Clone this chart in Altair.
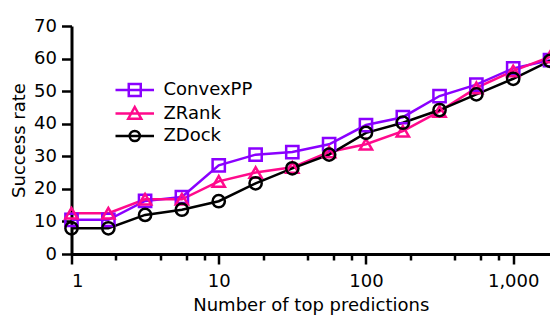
import altair as alt
import pandas as pd

# ---- data ----
x_vals = [1, 1.78, 3.16, 5.62, 10, 17.8, 31.6, 56.2, 100, 178, 316, 562, 1000, 1778]
convexpp = [10.5, 10.5, 16.3, 17.5, 27.2, 30.5, 31.3, 33.7, 39.6, 42.0, 48.5, 52.0, 57.0, 59.5]
zrank = [12.5, 12.5, 16.8, 16.8, 22.3, 25.0, 26.6, 31.3, 33.7, 37.7, 43.8, 51.0, 56.2, 60.5]
zdock = [7.9, 7.9, 12.0, 13.6, 16.2, 21.7, 26.3, 30.5, 37.2, 40.3, 44.2, 49.0, 53.8, 59.3]

series_names = ["ConvexPP", "ZRank", "ZDock"]
series_values = [convexpp, zrank, zdock]
series_colors = ["#8a00ff", "#ff0a8c", "#000000"]
marker_shapes = ["square", "triangle-up", "circle"]
# legend symbols: a line with the series marker on it (unit = sqrt(symbolSize)/2 px)
legend_symbols = [
    "M-1.385,0H4.54M0.655,-0.92H2.5V0.92H0.655Z",
    "M-1.385,0H4.54M1.577,-1.0L2.577,0.8H0.577Z",
    "M-1.385,0H4.54M2.357,0A0.78,0.78 0 1,1 0.797,0A0.78,0.78 0 1,1 2.357,0Z",
]
x_tick_values = [1, 2, 4, 6, 8, 10, 20, 40, 60, 80, 100, 200, 400, 600, 800, 1000]
x_label_values = [1, 10, 100, 1000]
y_tick_values = [0, 10, 20, 30, 40, 50, 60, 70]

rows = []
for name, vals in zip(series_names, series_values):
    for xv, v in zip(x_vals, vals):
        rows.append({"x": xv, "rate": v, "series": name})
df = pd.DataFrame(rows)

FONT = "DejaVu Sans"
label_test = "indexof([" + ",".join(str(v) for v in x_label_values) + "], datum.value) >= 0"

x_enc = alt.X(
    "x:Q",
    scale=alt.Scale(type="log", domain=[x_vals[0], x_vals[-1]], nice=False),
    axis=alt.Axis(
        values=x_tick_values,
        labelExpr=label_test + " ? format(datum.value, ',') : ''",
        tickSize={"condition": {"test": label_test, "value": 10}, "value": 6},
        title="Number of top predictions",
        labelPadding=8,
        titlePadding=6,
    ),
)
y_enc = alt.Y(
    "rate:Q",
    scale=alt.Scale(domain=[0, 70], nice=False),
    axis=alt.Axis(values=y_tick_values, title="Success rate", tickSize=10,
                  labelPadding=5, titlePadding=5),
)

legend_props = dict(title=None, orient="none", legendX=44, legendY=55)
color_enc = alt.Color("series:N", scale=alt.Scale(domain=series_names, range=series_colors),
                      legend=alt.Legend(**legend_props))

base = alt.Chart(df)

lines = base.mark_line(strokeWidth=2.5, clip=False).encode(
    x=x_enc, y=y_enc, color=color_enc, detail="series:N"
)

marker_layers = []
for name, shp in zip(series_names, marker_shapes):
    marker_layers.append(
        base.transform_filter(alt.datum.series == name)
        .mark_point(shape=shp, filled=False, size=150, strokeWidth=2.5, opacity=1, clip=False)
        .encode(x=x_enc, y=y_enc, color=color_enc)
    )

# legend-only layer (draws no marks): supplies the line+marker legend symbols
legend_layer = (
    base.transform_filter("false")
    .mark_point(filled=False, strokeWidth=2.5)
    .encode(
        color=color_enc,
        shape=alt.Shape("series:N", scale=alt.Scale(domain=series_names, range=legend_symbols),
                        legend=alt.Legend(**legend_props)),
    )
)

chart = (
    alt.layer(lines, *marker_layers, legend_layer)
    .properties(
        width=478.5, height=228,
        autosize=alt.AutoSizeParams(type="none"),
        padding={"left": 63.5, "top": 18, "right": 0, "bottom": 62},
    )
    .configure(font=FONT)
    .configure_view(stroke=None)
    .configure_legend(symbolSize=169, symbolStrokeWidth=2.5, symbolOpacity=1,
                      labelFontSize=18, labelFont=FONT, labelOffset=30, rowPadding=0.5,
                      labelColor="#000", padding=0)
    .configure_axis(
        grid=False,
        domainColor="#000", domainWidth=3,
        tickColor="#000", tickWidth=2.5,
        labelColor="#000", labelFontSize=18, labelFont=FONT,
        titleColor="#000", titleFontSize=18, titleFont=FONT, titleFontWeight="normal",
    )
)

chart.save("out.html", embed_options={"renderer": "svg", "actions": False})
